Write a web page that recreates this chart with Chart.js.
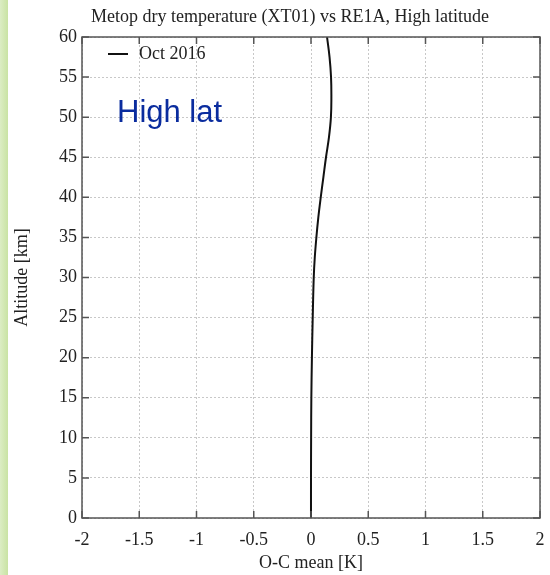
<!DOCTYPE html>
<html>
<head>
<meta charset="utf-8">
<script src="https://cdn.jsdelivr.net/npm/chart.js@4.4.0/dist/chart.umd.min.js"></script>
<style>
  html, body { margin: 0; padding: 0; background: #fff; }
  #wrap { position: relative; width: 550px; height: 575px; }
  #strip { position: absolute; left: 0; top: 0; width: 8px; height: 575px;
           background: linear-gradient(to right, #dcedc4, #c9e3a3); }
  canvas { position: absolute; left: 0; top: 0; }
</style>
</head>
<body>
<div id="wrap">
  <div id="strip"></div>
  <canvas id="chart" width="550" height="575"></canvas>
</div>
<script>
// altitude levels (km) and O-C mean (K)
const altitude = [0, 5, 10, 15, 20, 25, 30, 32.5, 35, 37.5, 40, 42.5, 45, 47.5, 50, 52.5, 55, 57.5, 60];
const ocMean   = [0, 0, 0.001, 0.003, 0.008, 0.015, 0.024, 0.033, 0.047, 0.064, 0.085, 0.108, 0.131, 0.157, 0.174, 0.178, 0.175, 0.162, 0.14];
const seriesLabel = 'Oct 2016';
const chartTitle = 'Metop dry temperature (XT01) vs RE1A, High latitude';
const xTicks = [-2, -1.5, -1, -0.5, 0, 0.5, 1, 1.5, 2];
const yTicks = [0, 5, 10, 15, 20, 25, 30, 35, 40, 45, 50, 55, 60];

const serif = "'Liberation Serif', 'DejaVu Serif', serif";

// title, frame, inner tick marks, legend and the "High lat" note
const framePlugin = {
    id: 'frame',
    afterDraw(chart) {
        const ctx = chart.ctx;
        const a = chart.chartArea;
        const xs = chart.scales.x, ys = chart.scales.y;
        ctx.save();

        ctx.fillStyle = '#222';
        ctx.font = '18px ' + serif;
        ctx.textAlign = 'center';
        ctx.textBaseline = 'middle';
        ctx.fillText(chartTitle, 290, 17);
        ctx.textAlign = 'left';

        ctx.strokeStyle = '#555';
        ctx.lineWidth = 1.5;
        ctx.beginPath();
        xTicks.forEach(v => {
            const px = xs.getPixelForValue(v);
            ctx.moveTo(px, a.bottom); ctx.lineTo(px, a.bottom - 7);
            ctx.moveTo(px, a.top); ctx.lineTo(px, a.top + 7);
        });
        yTicks.forEach(v => {
            const py = ys.getPixelForValue(v);
            ctx.moveTo(a.left, py); ctx.lineTo(a.left + 7, py);
            ctx.moveTo(a.right, py); ctx.lineTo(a.right - 7, py);
        });
        ctx.stroke();
        ctx.strokeRect(a.left, a.top, a.right - a.left, a.bottom - a.top);

        // legend
        ctx.strokeStyle = '#111';
        ctx.lineWidth = 2;
        ctx.beginPath();
        ctx.moveTo(a.left + 26, a.top + 17);
        ctx.lineTo(a.left + 46, a.top + 17);
        ctx.stroke();
        ctx.fillStyle = '#222';
        ctx.font = '18px ' + serif;
        ctx.fillText(chart.data.datasets[0].label, a.left + 57, a.top + 17);

        // note
        ctx.fillStyle = '#0a2c9e';
        ctx.font = "31px 'Liberation Sans', Arial, sans-serif";
        ctx.textBaseline = 'alphabetic';
        ctx.fillText('High lat', a.left + 35, a.top + 85);
        ctx.restore();
    }
};

new Chart(document.getElementById('chart'), {
    type: 'scatter',
    data: {
        datasets: [{
            label: seriesLabel,
            data: altitude.map((h, i) => ({ x: ocMean[i], y: h })),
            showLine: true,
            borderColor: '#111',
            borderWidth: 2,
            pointRadius: 0,
            tension: 0.4
        }]
    },
    options: {
        responsive: false,
        animation: false,
        layout: { autoPadding: false, padding: { left: 0, right: 10, top: 37, bottom: 0 } },
        plugins: {
            legend: { display: false },
            tooltip: { enabled: false },
            title: { display: false }
        },
        scales: {
            x: {
                type: 'linear',
                min: -2, max: 2,
                afterBuildTicks: s => { s.ticks = xTicks.map(v => ({ value: v })); },
                afterFit: s => { s.height = 57; s.paddingLeft = 0; s.paddingRight = 0; },
                grid: { color: '#c8c8c8', lineWidth: 1, drawTicks: false },
                border: { display: false, dash: [2, 2] },
                ticks: { color: '#222', padding: 11, font: { family: serif, size: 18 }, maxRotation: 0,
                         callback: v => String(v) },
                title: { display: true, text: 'O-C mean [K]', color: '#222', font: { family: serif, size: 18 }, padding: { top: 1, bottom: 1 } }
            },
            y: {
                type: 'linear',
                min: 0, max: 60,
                afterBuildTicks: s => { s.ticks = yTicks.map(v => ({ value: v })); },
                afterFit: s => { s.width = 82; s.paddingTop = 0; s.paddingBottom = 0; },
                grid: { color: '#c8c8c8', lineWidth: 1, drawTicks: false },
                border: { display: false, dash: [2, 2] },
                ticks: { color: '#222', padding: 5, font: { family: serif, size: 18 }, callback: v => String(v) },
                title: { display: true, text: 'Altitude [km]', color: '#222', font: { family: serif, size: 18 }, padding: { top: 11, bottom: 0 } }
            }
        }
    },
    plugins: [framePlugin]
});
</script>
</body>
</html>
